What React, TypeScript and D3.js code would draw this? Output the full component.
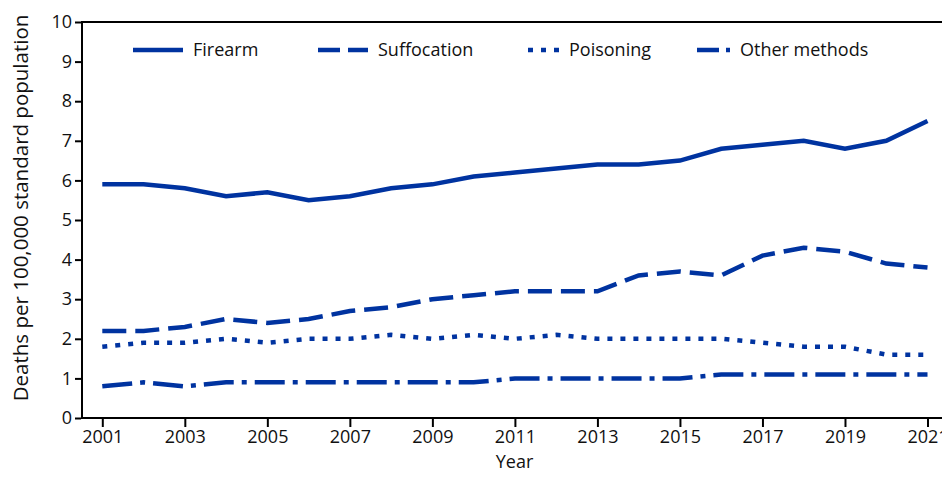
import * as d3 from "d3";
import { FC, useEffect, useRef } from "react";

const years = [
  2001, 2002, 2003, 2004, 2005, 2006, 2007, 2008, 2009, 2010, 2011, 2012, 2013,
  2014, 2015, 2016, 2017, 2018, 2019, 2020, 2021,
];
const firearm = [
  5.9, 5.9, 5.8, 5.6, 5.7, 5.5, 5.6, 5.8, 5.9, 6.1, 6.2, 6.3, 6.4, 6.4, 6.5,
  6.8, 6.9, 7.0, 6.8, 7.0, 7.5,
];
const suffocation = [
  2.2, 2.2, 2.3, 2.5, 2.4, 2.5, 2.7, 2.8, 3.0, 3.1, 3.2, 3.2, 3.2, 3.6, 3.7,
  3.6, 4.1, 4.3, 4.2, 3.9, 3.8,
];
const poisoning = [
  1.8, 1.9, 1.9, 2.0, 1.9, 2.0, 2.0, 2.1, 2.0, 2.1, 2.0, 2.1, 2.0, 2.0, 2.0,
  2.0, 1.9, 1.8, 1.8, 1.6, 1.6,
];
const otherMethods = [
  0.8, 0.9, 0.8, 0.9, 0.9, 0.9, 0.9, 0.9, 0.9, 0.9, 1.0, 1.0, 1.0, 1.0, 1.0,
  1.1, 1.1, 1.1, 1.1, 1.1, 1.1,
];
const seriesNames = ["Firearm", "Suffocation", "Poisoning", "Other methods"];
const yTicks = [0, 1, 2, 3, 4, 5, 6, 7, 8, 9, 10];
const xTicks = [2001, 2003, 2005, 2007, 2009, 2011, 2013, 2015, 2017, 2019, 2021];

const WIDTH = 950;
const HEIGHT = 484;
const BLUE = "#0033a0";
const FONT = "'Open Sans', sans-serif";

const dashes = ["none", "24,9", "5,8", "30,8,5,8"];
const legendDashes = ["none", "22,8", "5,8", "22,7,5,7"];
const legendX = [133, 318, 528, 697];
const legendLen = [50, 50, 31, 33];

const Chart: FC = () => {
  const ref = useRef<SVGSVGElement | null>(null);

  useEffect(() => {
    if (!ref.current) return;
    const svg = d3.select(ref.current);
    svg.selectAll("*").remove();

    const left = 82;
    const right = 947;
    const top = 22;
    const bottom = 418;

    // 2001 sits 20px in from the left edge, 2021 20px in from the right
    const xScale = d3.scaleLinear([2001, 2021], [102.3, 927.5]);
    const yScale = d3.scaleLinear([0, 10], [bottom, top]);

    // frame
    svg
      .append("rect")
      .attr("x", left)
      .attr("y", top)
      .attr("width", right - left)
      .attr("height", bottom - top)
      .attr("fill", "none")
      .attr("stroke", "#000")
      .attr("stroke-width", 2);

    // y axis
    const yAxis = svg
      .append("g")
      .attr("transform", `translate(${left - 1}, 0)`)
      .call(d3.axisLeft(yScale).tickValues(yTicks).tickSize(6).tickPadding(3));
    yAxis.select(".domain").remove();
    yAxis.selectAll(".tick line").attr("stroke", "#000").attr("stroke-width", 2);
    yAxis
      .selectAll(".tick text")
      .attr("font-family", FONT)
      .attr("font-size", 18)
      .attr("fill", "#111");

    // x axis
    const xAxis = svg
      .append("g")
      .attr("transform", `translate(0, ${bottom + 1})`)
      .call(
        d3
          .axisBottom(xScale)
          .tickValues(xTicks)
          .tickFormat(d3.format("d"))
          .tickSize(8)
          .tickPadding(3)
      );
    xAxis.select(".domain").remove();
    xAxis.selectAll(".tick line").attr("stroke", "#000").attr("stroke-width", 2);
    xAxis
      .selectAll(".tick text")
      .attr("font-family", FONT)
      .attr("font-size", 18)
      .attr("fill", "#111");

    // axis titles
    svg
      .append("text")
      .attr("x", (left + right) / 2)
      .attr("y", 468)
      .attr("text-anchor", "middle")
      .attr("font-family", FONT)
      .attr("font-size", 18)
      .attr("fill", "#111")
      .text("Year");

    svg
      .append("text")
      .attr("transform", `translate(28, 208) rotate(-90)`)
      .attr("text-anchor", "middle")
      .attr("font-family", FONT)
      .attr("font-size", 20.5)
      .attr("fill", "#111")
      .text("Deaths per 100,000 standard population");

    // lines
    const allSeries = [firearm, suffocation, poisoning, otherMethods];
    const line = d3
      .line<number>()
      .x((_, i) => xScale(years[i]))
      .y((d) => yScale(d));

    allSeries.forEach((s, i) => {
      svg
        .append("path")
        .datum(s)
        .attr("d", line)
        .attr("fill", "none")
        .attr("stroke", BLUE)
        .attr("stroke-width", 4.5)
        .attr("stroke-dasharray", dashes[i]);
    });

    // legend
    seriesNames.forEach((name, i) => {
      const g = svg.append("g").attr("transform", `translate(${legendX[i]}, 50)`);
      g.append("line")
        .attr("x1", 0)
        .attr("x2", legendLen[i])
        .attr("y1", 0)
        .attr("y2", 0)
        .attr("stroke", BLUE)
        .attr("stroke-width", 4.5)
        .attr("stroke-dasharray", legendDashes[i]);
      g.append("text")
        .attr("x", legendLen[i] + 10)
        .attr("y", 0)
        .attr("dy", "0.35em")
        .attr("font-family", FONT)
        .attr("font-size", 18)
        .attr("fill", "#111")
        .text(name);
    });
  }, []);

  return <svg ref={ref} width={WIDTH} height={HEIGHT} style={{ display: "block" }} />;
};

export default function App() {
  return (
    <div style={{ margin: -8 }}>
      <Chart />
    </div>
  );
}
